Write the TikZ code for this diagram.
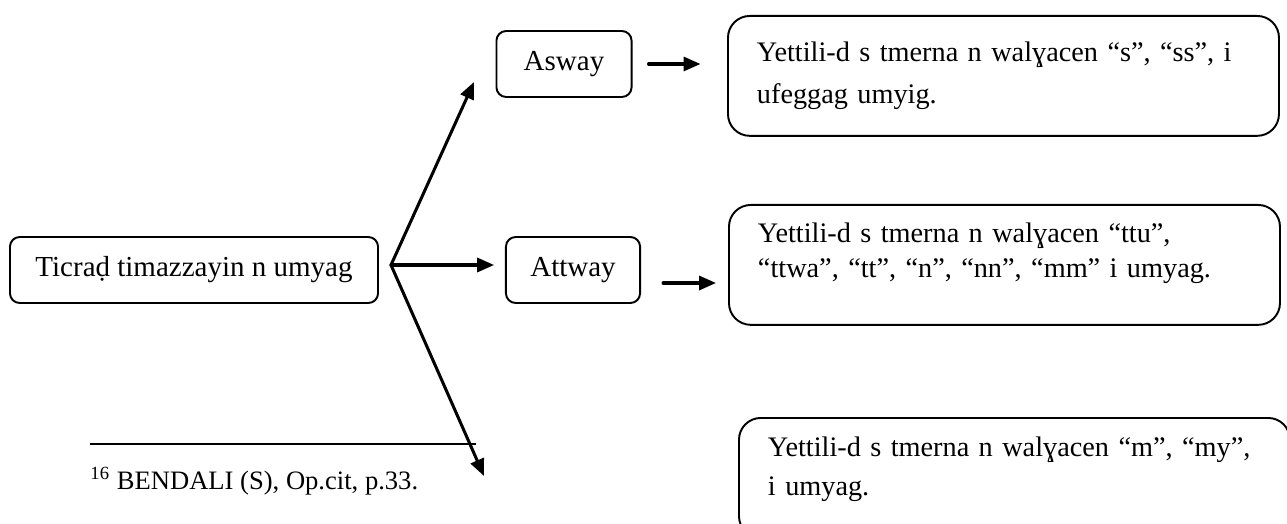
\documentclass[tikz,border=0pt]{standalone}
\usepackage{fontspec}
\setmainfont{Liberation Serif}
\usetikzlibrary{arrows.meta}

\begin{document}
\begin{tikzpicture}[x=0.4138pt,y=-0.4138pt,
		petit/.style={draw,line width=0.8pt,rounded corners=4pt,minimum height=27.3pt,inner sep=0pt,font=\fontsize{12}{14.4}\selectfont},
		grand/.style={draw,line width=0.8pt,rounded corners=9pt,anchor=north west,align=left,inner xsep=12pt,inner ysep=0pt,text width=204pt},
		fleche/.style={line width=1.25pt,line cap=round,-{Triangle[length=7pt,width=5.8pt]}}]
		\useasboundingbox (0,0) rectangle (1287,524);
		\clip (0,0) rectangle (1287,524);
		%
		\node[petit,minimum width=152.3pt] (ticrad) at (194,270) {Ticraḍ timazzayin n umyag};
		\node[petit,minimum width=55.9pt] (asway) at (564,64) {Asway};
		\node[petit,minimum width=55.5pt] (attway) at (573,270) {Attway};
		%
		\node[grand,text height=19pt,text depth=30.6pt,font=\fontsize{11.7}{17.4}\selectfont] (tala1) at (727,15) {Yettili-d s tmerna n walɣacen “s”, “ss”, i\\ufeggag umyig.};
		\node[grand,text height=15.5pt,text depth=34.1pt,font=\fontsize{11.7}{14.5}\selectfont] (tala2) at (728,204) {Yettili-d s tmerna n walɣacen “ttu”,\\“ttwa”, “tt”, “n”, “nn”, “mm” i umyag.};
		\node[grand,text height=16.1pt,text depth=33.5pt,font=\fontsize{11.7}{16.1}\selectfont] (tala3) at (738,417) {Yettili-d s tmerna n walɣacen “m”, “my”,\\i umyag.};
		%
		\coordinate (fourche) at ([shift={(12,-5)}]ticrad.east);
		\coordinate (haut) at (474,82);
		\coordinate (bas) at (484,476);
		\draw[fleche] (fourche) -- (haut);
		\draw[fleche,shorten >=4.5pt] (fourche) -- (fourche -| attway.west);
		\draw[fleche] (fourche) -- (bas);
		%
		\draw[fleche] ([shift={(16,0)}]asway.east) -- ([shift={(68,0)}]asway.east);
		\draw[fleche] ([shift={(22,13)}]attway.east) -- ([shift={(75,13)}]attway.east);
		%
		\coordinate (filet) at (90,444);
		\draw[line width=1pt] (filet) -- (476,444);
		\node[anchor=base west,inner sep=0pt,font=\fontsize{11}{13}\selectfont] (renvoi) at (90,489) {\textsuperscript{16} BENDALI (S), Op.cit, p.33.};
	\end{tikzpicture}
\end{document}
